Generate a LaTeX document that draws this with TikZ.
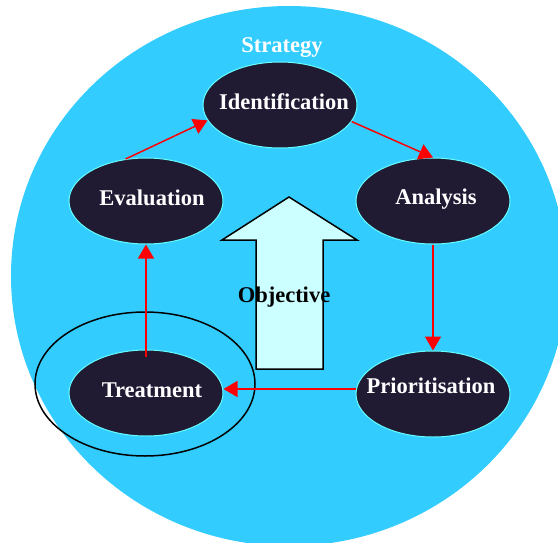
\documentclass[tikz,border=0pt]{standalone}
\usepackage{fontspec}
\setmainfont{Liberation Serif}
\usetikzlibrary{shapes.geometric,arrows.meta}
\definecolor{skyb}{HTML}{33CCFF}
\definecolor{darkn}{HTML}{201A33}
\definecolor{rimc}{HTML}{66FFFF}
\definecolor{arrf}{HTML}{CCFFFF}
\begin{document}
\begin{tikzpicture}[x=1pt,y=-1pt,
 stage/.style={ellipse, fill=darkn, draw=rimc, line width=1pt, minimum width=154pt, minimum height=86pt, inner sep=0pt},
 lbl/.style={anchor=base, text=white, font=\fontsize{22.5}{27}\selectfont\bfseries, inner sep=0pt},
 flow/.style={draw=red, line width=1.5pt, -{Triangle[width=16pt,length=14pt]}}
]
\useasboundingbox (0,0) rectangle (558,542);
\begin{scope}
\clip (0,0) rectangle (558,542);
\fill[skyb] (289,276) ellipse [x radius=278, y radius=270];
\end{scope}
% objective block arrow
\draw[fill=arrf, line width=1.5pt, line join=miter] (289,197) -- (357,240) -- (323,240) -- (323,369) -- (256,369) -- (256,240) -- (222,240) -- cycle;
% focus ring around treatment
\node[ellipse, draw=black, line width=1.5pt, minimum width=220pt, minimum height=144pt, inner sep=0pt] (focus) at (145,384) {};
% stages
\node[stage] (ident) at (280,105) {};
\node[stage] (anal) at (433,201) {};
\node[stage] (prio) at (433,394) {};
\node[stage] (treat) at (146,393) {};
\node[stage] (eval) at (146,201) {};
\node[lbl] (identL) at (284,109) {Identification};
\node[lbl] (analL) at (436,204) {Analysis};
\node[lbl] (prioL) at (431,393) {Prioritisation};
\node[lbl] (treatL) at (152,397) {Treatment};
\node[lbl] (evalL) at (152,205) {Evaluation};
\node[lbl] (strat) at (282,52) {Strategy};
\node[lbl, text=black] (obj) at (284,302) {Objective};
% flows
\coordinate (hline) at (0,389);
\draw[flow] (eval.116) -- (ident.192);
\draw[flow] (ident.347) -- (anal.north);
\draw[flow] (anal.south) -- (prio.north);
\draw[flow] (prio.west |- hline) -- (treat.east |- hline);
\draw[flow] ([yshift=-7pt]treat.north) -- (eval.south);
\end{tikzpicture}
\end{document}
